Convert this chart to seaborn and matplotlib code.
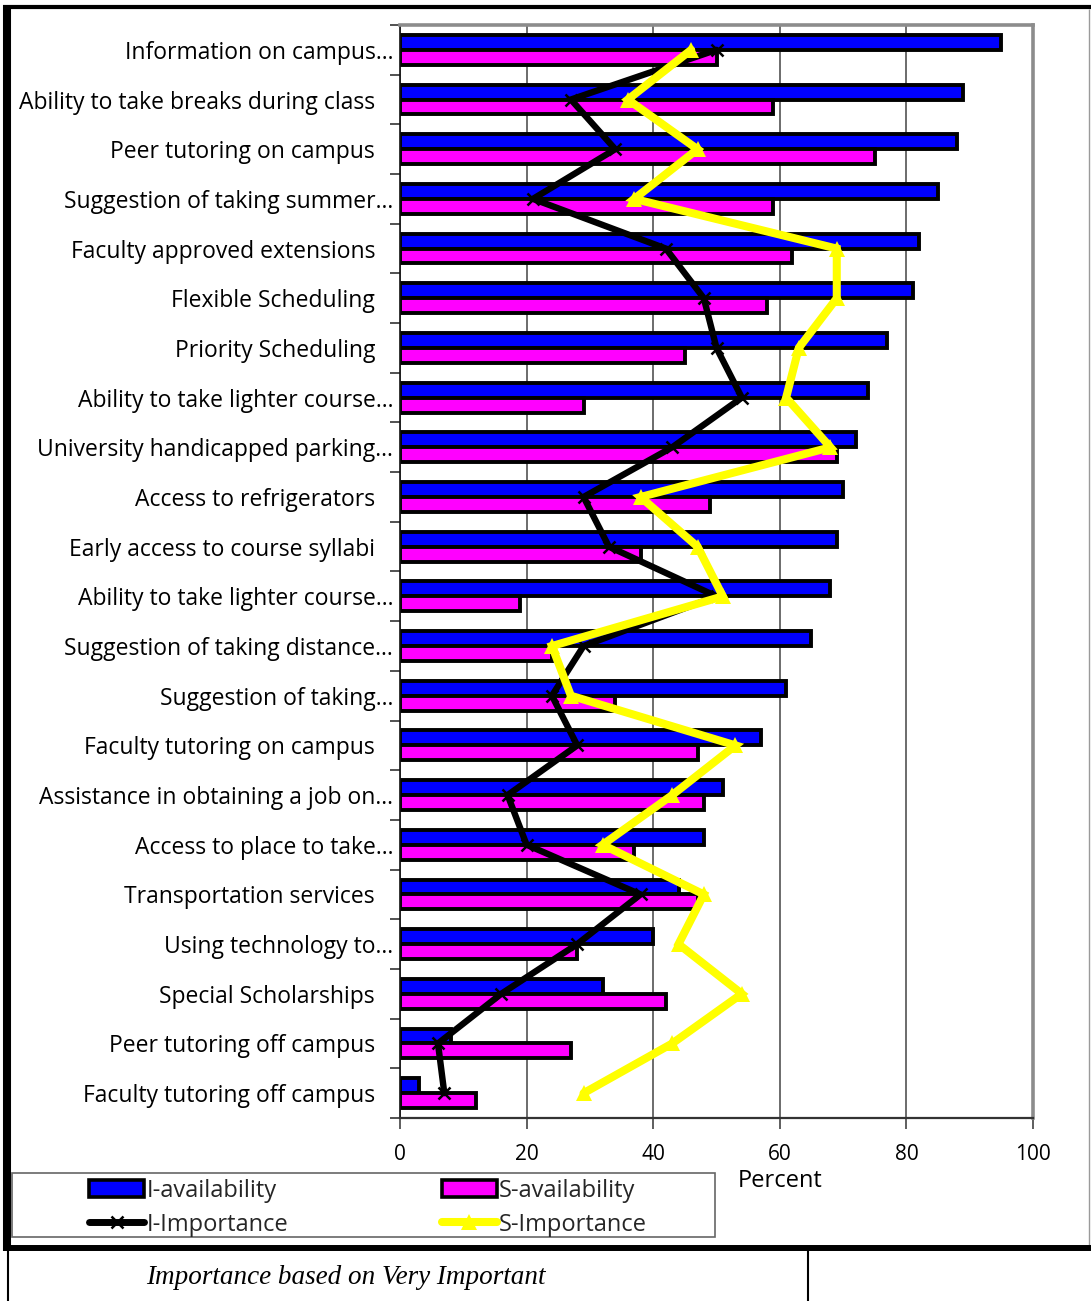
import numpy as np
import pandas as pd
import matplotlib
matplotlib.use("Agg")
import matplotlib.pyplot as plt
from matplotlib.patches import Patch, Rectangle
from matplotlib.lines import Line2D
import seaborn as sns

# Support items, listed top to bottom
labels = [
    "Information on campus\u2026",
    "Ability to take breaks during class\u00a0\u00a0\u00a0",
    "Peer tutoring on campus\u00a0\u00a0\u00a0",
    "Suggestion of taking summer\u2026",
    "Faculty approved extensions\u00a0\u00a0\u00a0",
    "Flexible Scheduling\u00a0\u00a0\u00a0",
    "Priority Scheduling\u00a0\u00a0\u00a0",
    "Ability to take lighter course\u2026",
    "University handicapped parking\u2026",
    "Access to refrigerators\u00a0\u00a0\u00a0",
    "Early access to course syllabi\u00a0\u00a0\u00a0",
    "Ability to take lighter course\u2026",
    "Suggestion of taking distance\u2026",
    "Suggestion of taking\u2026",
    "Faculty tutoring on campus\u00a0\u00a0\u00a0",
    "Assistance in obtaining a job on\u2026",
    "Access to place to take\u2026",
    "Transportation services\u00a0\u00a0\u00a0",
    "Using technology to\u2026",
    "Special Scholarships\u00a0\u00a0\u00a0",
    "Peer tutoring off campus\u00a0\u00a0\u00a0",
    "Faculty tutoring off campus\u00a0\u00a0\u00a0",
]

i_availability = [95, 89, 88, 85, 82, 81, 77, 74, 72, 70, 69, 68, 65, 61, 57, 51, 48, 44, 40, 32, 8, 3]
s_availability = [50, 59, 75, 59, 62, 58, 45, 29, 69, 49, 38, 19, 24, 34, 47, 48, 37, 47, 28, 42, 27, 12]
i_importance = [50, 27, 34, 21, 42, 48, 50, 54, 43, 29, 33, 50, 29, 24, 28, 17, 20, 38, 28, 16, 6, 7]
s_importance = [46, 36, 47, 37, 69, 69, 63, 61, 68, 38, 47, 51, 24, 27, 53, 43, 32, 48, 44, 54, 43, 29]

x_ticks = [0, 20, 40, 60, 80, 100]

BLUE = "#0000FF"
MAGENTA = "#FF00FF"
YELLOW = "#FFFF00"

sns.set_theme(style="white")
plt.rcParams["font.family"] = ["Open Sans", "DejaVu Sans"]

W, H = 1091, 1301
fig = plt.figure(figsize=(W / 100, H / 100), dpi=100)


def fx(px):
    return px / W


def fy(py):
    return 1 - py / H


keys = [f"item{i:02d}" for i in range(len(labels))]
df = pd.DataFrame({
    "item": keys * 2,
    "value": i_availability + s_availability,
    "series": ["I-availability"] * len(keys) + ["S-availability"] * len(keys),
})

ax = fig.add_axes([fx(400), fy(1118), fx(1033) - fx(400), (1118 - 25) / H])
sns.barplot(
    data=df, x="value", y="item", hue="series", order=keys,
    hue_order=["I-availability", "S-availability"],
    palette=[BLUE, MAGENTA], saturation=1, width=0.6,
    edgecolor="black", linewidth=2.8, orient="h", legend=False, ax=ax,
)

pos = np.arange(len(keys))
ax.plot(i_importance, pos, color="black", lw=4.6, marker="x", ms=8, mew=1.8,
        solid_joinstyle="miter", zorder=4)
ax.plot(s_importance, pos, color=YELLOW, lw=5.8, marker="^", ms=11, mew=0,
        solid_joinstyle="miter", zorder=5)

ax.set_xlim(0, 100)
ax.set_ylim(len(keys) - 0.5, -0.5)
ax.set_xticks(x_ticks)
ax.set_xticklabels([str(t) for t in x_ticks], fontsize=15)
ax.set_yticks(pos)
ax.set_yticklabels(labels, fontsize=16.5)
ax.set_yticks(np.arange(-0.5, len(keys), 1), minor=True)
ax.set_xlabel("")
ax.set_ylabel("")

ax.xaxis.grid(True, color="#444444", lw=1.1)
ax.yaxis.grid(False)
ax.set_axisbelow(True)

ax.tick_params(axis="y", which="major", length=0, pad=5, colors="black")
ax.tick_params(axis="y", which="minor", left=True, length=7, width=1.1,
               direction="out", color="#222222")
ax.tick_params(axis="x", which="major", bottom=True, length=8, width=1.1,
               direction="out", color="#333333", pad=11, labelcolor="black")

for side in ("top", "right"):
    ax.spines[side].set_color("#8c8c8c")
    ax.spines[side].set_linewidth(2.6)
ax.spines["left"].set_color("#111111")
ax.spines["left"].set_linewidth(1.2)
ax.spines["bottom"].set_color("#333333")
ax.spines["bottom"].set_linewidth(1.6)

fig.text(fx(780), fy(1181), "Percent", ha="center", va="center", fontsize=17, color="black")

# Legend with its own frame
fig.add_artist(Rectangle((fx(12), fy(1237)), fx(715) - fx(12), (1237 - 1173) / H,
                         transform=fig.transFigure, fill=False,
                         edgecolor="#666666", lw=1.2))
handles = [
    Patch(facecolor=BLUE, edgecolor="black", lw=2.6),
    Line2D([], [], color="black", lw=5.0, marker="x", ms=8, mew=1.8),
    Patch(facecolor=MAGENTA, edgecolor="black", lw=2.6),
    Line2D([], [], color=YELLOW, lw=5.8, marker="^", ms=11, mew=0),
]
names = ["I-availability", "I-Importance", "S-availability", "S-Importance"]
fig.legend(handles, names, ncol=2, loc="upper left",
           bbox_to_anchor=(fx(89), fy(1179)), frameon=False,
           handlelength=2.35, handletextpad=0.08, columnspacing=6.5,
           labelspacing=0.42, handleheight=0.75, borderpad=0, borderaxespad=0,
           fontsize=17)

# Outer page frame and footer box
def hline(y, x0, x1, lw, color="black"):
    fig.add_artist(Line2D([fx(x0), fx(x1)], [fy(y), fy(y)], transform=fig.transFigure,
                          color=color, lw=lw, solid_capstyle="butt"))


def vline(x, y0, y1, lw, color="black"):
    fig.add_artist(Line2D([fx(x), fx(x)], [fy(y0), fy(y1)], transform=fig.transFigure,
                          color=color, lw=lw, solid_capstyle="butt"))


hline(7, 3, W, 3.0)
vline(7, 5, 1251, 5.8)
vline(1089, 9, 1245, 1.0, color="#9a9a9a")
hline(1248, 3, W, 4.3)
vline(8, 1250, H, 1.5)
vline(808, 1250, H, 1.5)

fig.text(fx(346), fy(1277), "Importance based on Very Important", ha="center", va="center",
         family=["Liberation Serif", "DejaVu Serif"], style="italic", fontsize=19.5, color="black")

fig.savefig("out.png", dpi=100)
